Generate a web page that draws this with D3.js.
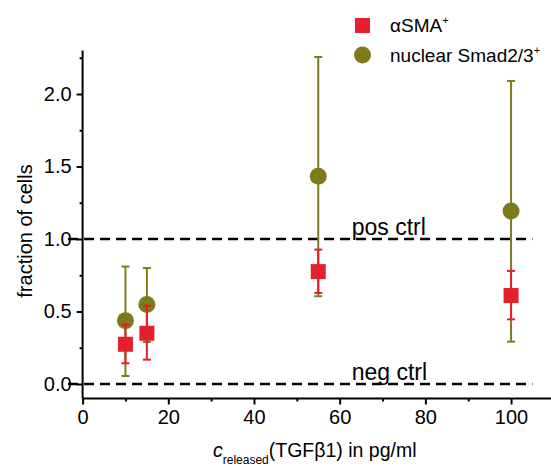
<!DOCTYPE html>
<html><head><meta charset="utf-8">
<script src="https://cdn.jsdelivr.net/npm/d3@7/dist/d3.min.js"></script>
<style>
body{margin:0;background:#fff;}
text{font-family:"Liberation Sans",Arial,sans-serif;fill:#000;}
</style></head>
<body><svg id="c" width="551" height="466"></svg>
<script>
const concentrations = [10, 15, 55, 100];
const smaMean = [0.274, 0.35, 0.775, 0.61];
const smaLow  = [0.143, 0.168, 0.628, 0.446];
const smaHigh = [0.41, 0.54, 0.927, 0.78];
const smadMean = [0.437, 0.548, 1.432, 1.193];
const smadLow  = [0.055, 0.29, 0.605, 0.292];
const smadHigh = [0.81, 0.80, 2.255, 2.09];
const xTicks = [0, 20, 40, 60, 80, 100];
const xMinor = [10, 30, 50, 70, 90, 110];
const yTicks = [0.0, 0.5, 1.0, 1.5, 2.0];
const yMinor = [0.25, 0.75, 1.25, 1.75, 2.25];
const refLines = [{v:1.0, label:"pos ctrl"}, {v:0.0, label:"neg ctrl"}];
const refExtent = [-3.4, 105];
const legendItems = ["αSMA", "nuclear Smad2/3"];

const red = "#e3202b", olive = "#7f7b1d";
const svg = d3.select("#c");
const x = d3.scaleLinear().domain([0, 110]).range([82.6, 553.9]);
const y = d3.scaleLinear().domain([-0.1, 2.3]).range([398.5, 50.5]);

// axes
const xAxis = svg.append("g").attr("transform", `translate(0,${y(-0.1)})`)
  .call(d3.axisBottom(x).tickValues(xTicks).tickFormat(d3.format("d")).tickSize(6).tickPadding(5));
svg.append("g").attr("transform", `translate(0,${y(-0.1)})`)
  .call(d3.axisBottom(x).tickValues(xMinor).tickFormat("").tickSize(3))
  .select(".domain").remove();
const yAxis = svg.append("g").attr("transform", `translate(${x(0)},0)`)
  .call(d3.axisLeft(y).tickValues(yTicks).tickFormat(d3.format(".1f")).tickSize(6).tickPadding(5));
svg.append("g").attr("transform", `translate(${x(0)},0)`)
  .call(d3.axisLeft(y).tickValues(yMinor).tickFormat("").tickSize(3))
  .select(".domain").remove();
svg.selectAll(".domain").attr("stroke", "#000").attr("stroke-width", 2);
svg.selectAll(".tick line").attr("stroke", "#000").attr("stroke-width", 2);
svg.selectAll(".tick text").attr("font-size", 20).attr("font-family", "Liberation Sans, Arial, sans-serif").attr("fill", "#000");
xAxis.select(".domain").attr("d", `M${x(0)},0H551`);
yAxis.select(".domain").attr("d", `M0,${y(2.3)}V${y(-0.1)}`);

// reference lines
refLines.forEach(r => {
  svg.append("line").attr("x1", x(refExtent[0])).attr("x2", x(refExtent[1]))
    .attr("y1", y(r.v)).attr("y2", y(r.v))
    .attr("stroke", "#000").attr("stroke-width", 2.5).attr("stroke-dasharray", "10,6");
  svg.append("text").attr("x", x(62.8)).attr("y", y(r.v) - 4)
    .attr("font-size", 23).text(r.label);
});

// series
function drawSeries(mean, low, high, color, shape) {
  const g = svg.append("g");
  concentrations.forEach((c, i) => {
    const cx = x(c);
    if (shape === "circle") {
      g.append("circle").attr("cx", cx).attr("cy", y(mean[i])).attr("r", 8.5).attr("fill", color);
    } else {
      g.append("rect").attr("x", cx - 7.5).attr("y", y(mean[i]) - 7.5).attr("width", 15).attr("height", 15).attr("fill", color);
    }
  });
  concentrations.forEach((c, i) => {
    const cx = x(c);
    g.append("line").attr("x1", cx).attr("x2", cx).attr("y1", y(low[i])).attr("y2", y(high[i]))
      .attr("stroke", color).attr("stroke-width", 2);
    [low[i], high[i]].forEach(v => {
      g.append("line").attr("x1", cx - 4).attr("x2", cx + 4).attr("y1", y(v)).attr("y2", y(v))
        .attr("stroke", color).attr("stroke-width", 2);
    });
  });
}
drawSeries(smadMean, smadLow, smadHigh, olive, "circle");
drawSeries(smaMean, smaLow, smaHigh, red, "square");

// legend
const lg = svg.append("g");
lg.append("rect").attr("x", 355).attr("y", 18).attr("width", 15).attr("height", 15).attr("fill", red);
lg.append("circle").attr("cx", 362.5).attr("cy", 55).attr("r", 8.5).attr("fill", olive);
const t1 = lg.append("text").attr("x", 390).attr("y", 32).attr("font-size", 19);
t1.append("tspan").text(legendItems[0]);
t1.append("tspan").attr("dy", -8).attr("font-size", 11).text("+");
const t2 = lg.append("text").attr("x", 390).attr("y", 62).attr("font-size", 19);
t2.append("tspan").text(legendItems[1]);
t2.append("tspan").attr("dy", -8).attr("font-size", 11).text("+");

// axis titles
svg.append("text").attr("transform", "translate(32,231) rotate(-90)")
  .attr("text-anchor", "middle").attr("font-size", 20).text("fraction of cells");
const xt = svg.append("text").attr("x", 213).attr("y", 457).attr("font-size", 19.5);
xt.append("tspan").attr("font-style", "italic").text("c");
xt.append("tspan").attr("font-size", 12).attr("dy", 7).text("released");
xt.append("tspan").attr("dy", -7).text("(TGFβ1) in pg/ml");
</script></body></html>
